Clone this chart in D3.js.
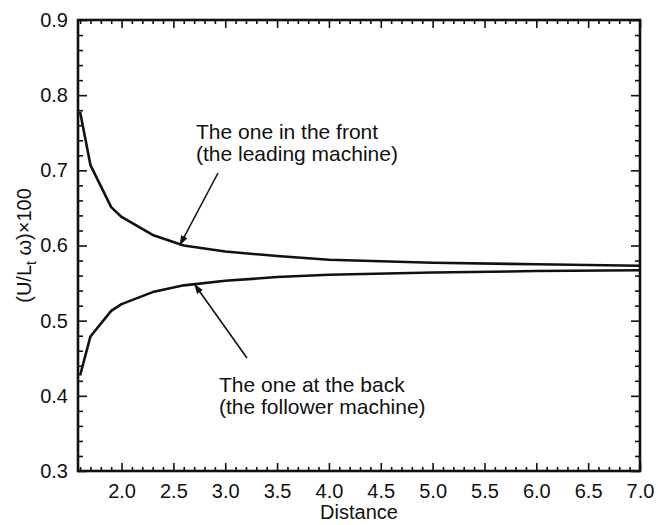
<!DOCTYPE html>
<html>
<head>
<meta charset="utf-8">
<script src="https://cdn.jsdelivr.net/npm/d3@7"></script>
<style>
body { margin: 0; background: #fff; }
svg text { font-family: "Liberation Sans", Arial, sans-serif; fill: #111; }
</style>
</head>
<body>
<div id="plot"></div>
<script>
// values
var distance = [1.6, 1.7, 1.9, 2.0, 2.3, 2.6, 3.0, 3.5, 4.0, 5.0, 6.0, 7.0];
var leading  = [0.778, 0.707, 0.651, 0.638, 0.614, 0.600, 0.592, 0.586, 0.581, 0.577, 0.575, 0.573];
var follower = [0.427, 0.479, 0.513, 0.522, 0.538, 0.547, 0.553, 0.558, 0.561, 0.564, 0.566, 0.567];

var xMajor = [2.0, 2.5, 3.0, 3.5, 4.0, 4.5, 5.0, 5.5, 6.0, 6.5, 7.0];
var yMajor = [0.3, 0.4, 0.5, 0.6, 0.7, 0.8, 0.9];

var W = 658, H = 525;
var pLeft = 78, pRight = 640, pTop = 20, pBottom = 471;

var svg = d3.select("#plot").append("svg")
	.attr("width", W)
	.attr("height", H);

var x = d3.scaleLinear().domain([1.58, 7.0]).range([pLeft, pRight]);
var y = d3.scaleLinear().domain([0.3, 0.9]).range([pBottom, pTop]);

var xMinor = d3.range(16, 71).map(function(d){ return d / 10; }).filter(function(d){ return Math.round(d * 10) % 5 != 0; });
var yMinor = d3.range(15, 46).map(function(d){ return d / 50; }).filter(function(d){ return Math.round(d * 50) % 5 != 0; });

function styleAxis(g) {
	g.select(".domain").remove();
	g.selectAll("line").attr("stroke", "#111").attr("stroke-width", 1.6);
	g.selectAll("text").attr("font-size", "20px").attr("fill", "#111");
}

// minor ticks, all four sides, pointing inward
svg.append("g").attr("transform", "translate(0," + pBottom + ")")
	.call(d3.axisBottom(x).tickValues(xMinor).tickSize(-4).tickFormat("")).call(styleAxis);
svg.append("g").attr("transform", "translate(0," + pTop + ")")
	.call(d3.axisTop(x).tickValues(xMinor).tickSize(-4).tickFormat("")).call(styleAxis);
svg.append("g").attr("transform", "translate(" + pLeft + ",0)")
	.call(d3.axisLeft(y).tickValues(yMinor).tickSize(-5).tickFormat("")).call(styleAxis);
svg.append("g").attr("transform", "translate(" + pRight + ",0)")
	.call(d3.axisRight(y).tickValues(yMinor).tickSize(-5).tickFormat("")).call(styleAxis);

// major ticks
svg.append("g").attr("transform", "translate(0," + pBottom + ")")
	.call(d3.axisBottom(x).tickValues(xMajor).tickSize(-8).tickPadding(13).tickFormat(d3.format(".1f"))).call(styleAxis);
svg.append("g").attr("transform", "translate(0," + pTop + ")")
	.call(d3.axisTop(x).tickValues(xMajor).tickSize(-8).tickFormat("")).call(styleAxis);
svg.append("g").attr("transform", "translate(" + pLeft + ",0)")
	.call(d3.axisLeft(y).tickValues(yMajor).tickSize(-9).tickPadding(10).tickFormat(d3.format(".1f"))).call(styleAxis);
svg.append("g").attr("transform", "translate(" + pRight + ",0)")
	.call(d3.axisRight(y).tickValues(yMajor).tickSize(-9).tickFormat("")).call(styleAxis);

// frame
svg.append("rect")
	.attr("x", pLeft).attr("y", pTop)
	.attr("width", pRight - pLeft).attr("height", pBottom - pTop)
	.attr("fill", "none").attr("stroke", "#111").attr("stroke-width", 2.6);

// curves
var line = d3.line()
	.x(function(d){ return x(d[0]); })
	.y(function(d){ return y(d[1]); });

[leading, follower].forEach(function(series){
	svg.append("path")
		.datum(d3.zip(distance, series))
		.attr("d", line)
		.attr("fill", "none")
		.attr("stroke", "#111")
		.attr("stroke-width", 2.6)
		.attr("stroke-linejoin", "round");
});

// arrow head
svg.append("defs").append("marker")
	.attr("id", "head")
	.attr("viewBox", "0 0 10 10")
	.attr("refX", 10).attr("refY", 5)
	.attr("markerWidth", 10).attr("markerHeight", 10)
	.attr("markerUnits", "userSpaceOnUse")
	.attr("orient", "auto")
	.append("path")
	.attr("d", "M0,1.5 L10,5 L0,8.5 z")
	.attr("fill", "#111");

// annotations
svg.append("line")
	.attr("x1", 218).attr("y1", 173)
	.attr("x2", x(2.56)).attr("y2", y(0.600))
	.attr("stroke", "#111").attr("stroke-width", 1.6)
	.attr("marker-end", "url(#head)");
svg.append("line")
	.attr("x1", 247).attr("y1", 358)
	.attr("x2", x(2.7)).attr("y2", y(0.549))
	.attr("stroke", "#111").attr("stroke-width", 1.6)
	.attr("marker-end", "url(#head)");

var note1 = svg.append("text").attr("font-size", "21px");
note1.append("tspan").attr("x", 196).attr("y", 139).text("The one in the front");
note1.append("tspan").attr("x", 196).attr("y", 161).text("(the leading machine)");

var note2 = svg.append("text").attr("font-size", "21px");
note2.append("tspan").attr("x", 219).attr("y", 392).text("The one at the back");
note2.append("tspan").attr("x", 219).attr("y", 414).text("(the follower machine)");

// axis titles
svg.append("text")
	.attr("x", (pLeft + pRight) / 2).attr("y", 519)
	.attr("text-anchor", "middle")
	.attr("font-size", "20px")
	.text("Distance");

var ylab = svg.append("text")
	.attr("transform", "translate(31," + ((pTop + pBottom) / 2) + ") rotate(-90)")
	.attr("text-anchor", "middle")
	.attr("font-size", "20px");
ylab.append("tspan").text("(U/L");
ylab.append("tspan").attr("font-size", "14px").attr("dy", 5).text("t");
ylab.append("tspan").attr("dy", -5).text(" \u03c9)\u00d7100");
</script>
</body>
</html>
